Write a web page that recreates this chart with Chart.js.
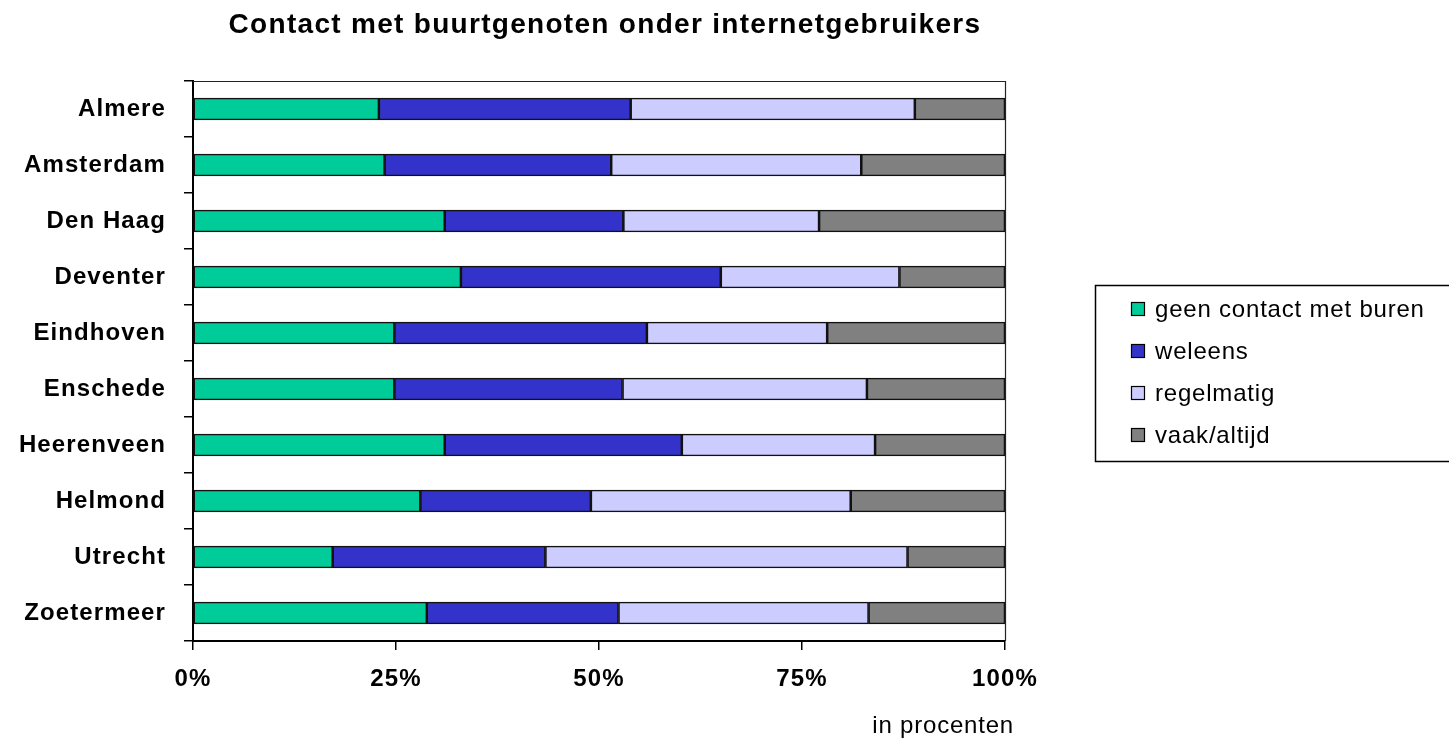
<!DOCTYPE html>
<html>
<head>
<meta charset="utf-8">
<script src="https://cdn.jsdelivr.net/npm/chart.js@4.4.1/dist/chart.umd.min.js"></script>
<style>
    body { margin: 0; background: #fff; }
    canvas { display: block; }
</style>
</head>
<body>
<canvas id="buurtChart" width="1449" height="741"></canvas>
<script>
// waarden (procenten per stad)
const steden = ['Almere', 'Amsterdam', 'Den Haag', 'Deventer', 'Eindhoven', 'Enschede', 'Heerenveen', 'Helmond', 'Utrecht', 'Zoetermeer'];
const geenContact = [22.9, 23.6, 31.0, 33.0, 24.8, 24.8, 31.0, 28.0, 17.2, 28.8];
const weleens     = [31.0, 27.9, 22.0, 32.0, 31.1, 28.1, 29.2, 21.0, 26.2, 23.6];
const regelmatig  = [35.0, 30.8, 24.1, 22.0, 22.2, 30.1, 23.8, 32.0, 44.6, 30.8];
const vaakAltijd  = [11.1, 17.7, 22.9, 13.0, 21.9, 17.0, 16.0, 19.0, 12.0, 16.8];
const reeksen = ['geen contact met buren', 'weleens', 'regelmatig', 'vaak/altijd'];
const kleuren = ['#00CC99', '#3333CC', '#CCCCFF', '#808080'];
const xTicks = [0, 25, 50, 75, 100];

const FONT = '"Liberation Sans", Arial, sans-serif';

// titel, rand van het plotvlak, legenda en "in procenten"
const extras = {
    id: 'extras',
    beforeDraw(chart) {
        chart.ctx.letterSpacing = '1.1px';
    },
    afterDraw(chart) {
        const { ctx, chartArea } = chart;
        ctx.save();

        // rand boven en rechts
        ctx.strokeStyle = '#222';
        ctx.lineWidth = 1.2;
        ctx.beginPath();
        ctx.moveTo(chartArea.left, chartArea.top + 0.5);
        ctx.lineTo(chartArea.right + 0.5, chartArea.top + 0.5);
        ctx.lineTo(chartArea.right + 0.5, chartArea.bottom);
        ctx.stroke();

        // titel
        ctx.fillStyle = '#000';
        ctx.letterSpacing = '1.3px';
        ctx.font = 'bold 28px ' + FONT;
        ctx.textAlign = 'center';
        ctx.textBaseline = 'alphabetic';
        ctx.fillText('Contact met buurtgenoten onder internetgebruikers', 605, 33);

        // as-eenheid
        ctx.letterSpacing = '0.8px';
        ctx.font = '24px ' + FONT;
        ctx.textAlign = 'right';
        ctx.fillText('in procenten', 1014, 733);

        // legenda
        ctx.lineWidth = 1.5;
        ctx.strokeStyle = '#000';
        ctx.strokeRect(1095.5, 285.5, 400, 176);
        ctx.textAlign = 'left';
        ctx.textBaseline = 'middle';
        chart.data.datasets.forEach((ds, i) => {
            const y = 309 + i * 42;
            ctx.fillStyle = ds.backgroundColor;
            ctx.fillRect(1131, y - 7, 14, 14);
            ctx.lineWidth = 1.2;
            ctx.strokeRect(1131.5, y - 6.5, 13, 13);
            ctx.fillStyle = '#000';
            ctx.fillText(ds.label, 1155, y + 1);
        });
        ctx.restore();
    }
};

const waarden = [geenContact, weleens, regelmatig, vaakAltijd];

new Chart(document.getElementById('buurtChart'), {
    type: 'bar',
    data: {
        labels: steden,
        datasets: reeksen.map((naam, i) => ({
            label: naam,
            data: waarden[i],
            backgroundColor: kleuren[i],
            borderColor: '#111',
            borderWidth: 1.6,
            borderSkipped: false,
            barThickness: 22
        }))
    },
    options: {
        indexAxis: 'y',
        responsive: false,
        animation: false,
        layout: {
            padding: { top: 81, right: 444, bottom: 0, left: 0 }
        },
        plugins: {
            legend: { display: false },
            title: { display: false },
            tooltip: { enabled: false }
        },
        scales: {
            x: {
                stacked: true,
                min: 0,
                max: 100,
                afterBuildTicks: (scale) => {
                    scale.ticks = xTicks.map(v => ({ value: v }));
                },
                afterFit: (scale) => { scale.height = 100; },
                ticks: {
                    color: '#000',
                    font: { family: FONT, size: 24, weight: 'bold' },
                    padding: 15,
                    callback: v => v + '%'
                },
                grid: {
                    drawOnChartArea: false,
                    drawTicks: true,
                    tickLength: 9,
                    lineWidth: 1.5,
                    color: '#000'
                },
                border: { display: true, color: '#000', width: 2 }
            },
            y: {
                stacked: true,
                afterFit: (scale) => { scale.width = 193; },
                ticks: {
                    color: '#000',
                    font: { family: FONT, size: 24, weight: 'bold' },
                    padding: 18
                },
                grid: {
                    drawOnChartArea: false,
                    drawTicks: true,
                    tickLength: 9,
                    lineWidth: 1.5,
                    color: '#000',
                    offset: true
                },
                border: { display: true, color: '#000', width: 2 }
            }
        }
    },
    plugins: [extras]
});
</script>
</body>
</html>
